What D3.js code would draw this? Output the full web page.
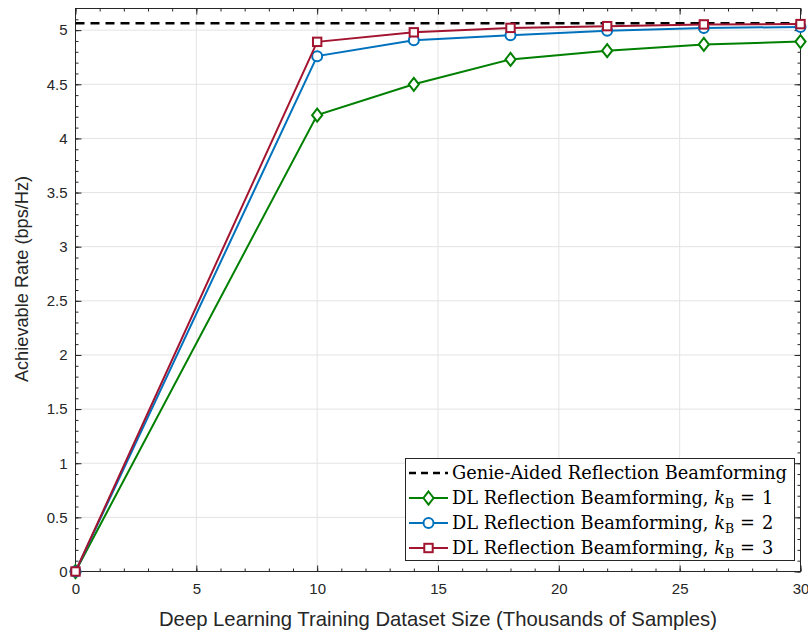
<!DOCTYPE html>
<html>
<head>
<meta charset="utf-8">
<script src="https://cdn.jsdelivr.net/npm/d3@7/dist/d3.min.js"></script>
<style>
  html, body { margin: 0; padding: 0; background: #fff; }
  svg { display: block; }
</style>
</head>
<body>
<svg id="chart" width="808" height="630"></svg>
<script>
// Training dataset sizes (thousands of samples)
const datasetSizes = [0, 10, 14, 18, 22, 26, 30];
// Achievable rate (bps/Hz) for each candidate-beam count k_B
const rateK1 = [0, 4.215, 4.50, 4.73, 4.81, 4.868, 4.895];
const rateK2 = [0, 4.76, 4.907, 4.954, 4.994, 5.019, 5.03];
const rateK3 = [0, 4.892, 4.98, 5.021, 5.037, 5.053, 5.056];
// Upper bound with perfect channel knowledge
const genieRate = 5.063;
// Axis tick values
const xTicks = [0, 5, 10, 15, 20, 25, 30];
const yTicks = [0, 0.5, 1, 1.5, 2, 2.5, 3, 3.5, 4, 4.5, 5];
const kValues = [1, 2, 3];

const series = [
  { k: kValues[0], values: rateK1, color: "#008000", marker: "diamond" },
  { k: kValues[1], values: rateK2, color: "#0072BD", marker: "circle" },
  { k: kValues[2], values: rateK3, color: "#A2142F", marker: "square" }
];

const svg = d3.select("#chart");
const plot = { left: 75.5, right: 800.5, top: 8.5, bottom: 571.5 };

const x = d3.scaleLinear().domain([0, 30]).range([plot.left, plot.right]);
const y = d3.scaleLinear().domain([0, 5.2]).range([plot.bottom, plot.top]);

const axisColor = "#262626";
const gridColor = "#e3e3e3";

// Grid lines at major ticks
const grid = svg.append("g");
grid.selectAll(".gx").data(xTicks.slice(1, -1)).enter().append("line")
  .attr("x1", d => x(d)).attr("x2", d => x(d))
  .attr("y1", plot.top).attr("y2", plot.bottom)
  .attr("stroke", gridColor).attr("stroke-width", 1);
grid.selectAll(".gy").data(yTicks.slice(1)).enter().append("line")
  .attr("x1", plot.left).attr("x2", plot.right)
  .attr("y1", d => y(d)).attr("y2", d => y(d))
  .attr("stroke", gridColor).attr("stroke-width", 1);

// Boxed axes with inward ticks on all four sides
const xMinor = d3.range(0, 31, 1);
const yMinor = d3.range(0, 52, 1).map(v => v / 10);
const majorLen = 6, minorLen = 3;
const tickStyle = g => g.call(s => s.select(".domain").remove())
  .call(s => s.selectAll("line").attr("stroke", axisColor));

svg.append("g").attr("transform", `translate(0,${plot.bottom})`)
  .call(d3.axisBottom(x).tickValues(xMinor).tickSize(-minorLen).tickFormat(""))
  .call(tickStyle);
svg.append("g").attr("transform", `translate(0,${plot.top})`)
  .call(d3.axisTop(x).tickValues(xMinor).tickSize(-minorLen).tickFormat(""))
  .call(tickStyle);
svg.append("g").attr("transform", `translate(${plot.left},0)`)
  .call(d3.axisLeft(y).tickValues(yMinor).tickSize(-minorLen).tickFormat(""))
  .call(tickStyle);
svg.append("g").attr("transform", `translate(${plot.right},0)`)
  .call(d3.axisRight(y).tickValues(yMinor).tickSize(-minorLen).tickFormat(""))
  .call(tickStyle);

const sansFont = "'Liberation Sans', Arial, sans-serif";
const xAxisG = svg.append("g").attr("transform", `translate(0,${plot.bottom})`)
  .call(d3.axisBottom(x).tickValues(xTicks).tickSize(-majorLen).tickPadding(12).tickFormat(d3.format("d")))
  .call(tickStyle);
xAxisG.selectAll("text").attr("fill", axisColor).style("font-family", sansFont).style("font-size", "15px");
svg.append("g").attr("transform", `translate(0,${plot.top})`)
  .call(d3.axisTop(x).tickValues(xTicks).tickSize(-majorLen).tickFormat(""))
  .call(tickStyle);
const yAxisG = svg.append("g").attr("transform", `translate(${plot.left},0)`)
  .call(d3.axisLeft(y).tickValues(yTicks).tickSize(-majorLen).tickPadding(8).tickFormat(d3.format("~g")))
  .call(tickStyle);
yAxisG.selectAll("text").attr("fill", axisColor).style("font-family", sansFont).style("font-size", "15px");
svg.append("g").attr("transform", `translate(${plot.right},0)`)
  .call(d3.axisRight(y).tickValues(yTicks).tickSize(-majorLen).tickFormat(""))
  .call(tickStyle);

svg.append("rect")
  .attr("x", plot.left).attr("y", plot.top)
  .attr("width", plot.right - plot.left).attr("height", plot.bottom - plot.top)
  .attr("fill", "none").attr("stroke", axisColor).attr("stroke-width", 1);

// Axis titles
svg.append("text")
  .attr("x", (plot.left + plot.right) / 2).attr("y", 626)
  .attr("text-anchor", "middle").attr("fill", axisColor)
  .style("font-family", sansFont).style("font-size", "20.3px")
  .text("Deep Learning Training Dataset Size (Thousands of Samples)");
svg.append("text")
  .attr("transform", "translate(28,279) rotate(-90)")
  .attr("text-anchor", "middle").attr("fill", axisColor)
  .style("font-family", sansFont).style("font-size", "18.2px")
  .text("Achievable Rate (bps/Hz)");

// Genie-aided bound
svg.append("line")
  .attr("x1", plot.left).attr("x2", plot.right)
  .attr("y1", y(genieRate)).attr("y2", y(genieRate))
  .attr("stroke", "#000").attr("stroke-width", 2.5)
  .attr("stroke-dasharray", "9,6");

// Marker drawing helper
function drawMarker(g, type, cx, cy, color) {
  if (type === "diamond") {
    const r = 6.5;
    g.append("path")
      .attr("d", `M${cx},${cy - r}L${cx + r * 0.78},${cy}L${cx},${cy + r}L${cx - r * 0.78},${cy}Z`)
      .attr("fill", "#fff").attr("stroke", color).attr("stroke-width", 2);
  } else if (type === "circle") {
    g.append("circle").attr("cx", cx).attr("cy", cy).attr("r", 5)
      .attr("fill", "#fff").attr("stroke", color).attr("stroke-width", 2);
  } else {
    const s = 4.2;
    g.append("rect").attr("x", cx - s).attr("y", cy - s).attr("width", 2 * s).attr("height", 2 * s)
      .attr("fill", "#fff").attr("stroke", color).attr("stroke-width", 2);
  }
}

const line = d3.line().x(d => x(d[0])).y(d => y(d[1]));
series.forEach(s => {
  const pts = datasetSizes.map((v, i) => [v, s.values[i]]);
  const g = svg.append("g");
  g.append("path").datum(pts).attr("d", line)
    .attr("fill", "none").attr("stroke", s.color).attr("stroke-width", 2);
  pts.forEach(p => drawMarker(g, s.marker, x(p[0]), y(p[1]), s.color));
});

// Legend
const legend = svg.append("g");
const lg = { x: 405.5, y: 458.5, w: 389, h: 102, row: 25 };
legend.append("rect").attr("x", lg.x).attr("y", lg.y).attr("width", lg.w).attr("height", lg.h)
  .attr("fill", "#fff").attr("stroke", axisColor).attr("stroke-width", 1);
const serif = "'DejaVu Serif', 'Liberation Serif', serif";
const legendSize = "17.8px";
const rowY = i => lg.y + 14.5 + i * lg.row;
legend.append("line").attr("x1", 409).attr("x2", 448).attr("y1", rowY(0)).attr("y2", rowY(0))
  .attr("stroke", "#000").attr("stroke-width", 2.5).attr("stroke-dasharray", "7,5");
legend.append("text").attr("x", 452).attr("y", rowY(0) + 6)
  .style("font-family", serif).style("font-size", legendSize).attr("fill", "#000")
  .text("Genie-Aided Reflection Beamforming");
series.forEach((s, i) => {
  const cy = rowY(i + 1);
  legend.append("line").attr("x1", 409).attr("x2", 448).attr("y1", cy).attr("y2", cy)
    .attr("stroke", s.color).attr("stroke-width", 2);
  drawMarker(legend, s.marker, 428.5, cy, s.color);
  const t = legend.append("text").attr("x", 452).attr("y", cy + 6)
    .style("font-family", serif).style("font-size", legendSize).attr("fill", "#000");
  t.append("tspan").text("DL Reflection Beamforming, ");
  t.append("tspan").style("font-style", "italic").text("k");
  t.append("tspan").attr("dy", 4).style("font-size", "12.5px").text("B");
  t.append("tspan").attr("dy", -4).attr("dx", 6).text("=");
  t.append("tspan").attr("dx", 7).text(String(s.k));
});
</script>
</body>
</html>
